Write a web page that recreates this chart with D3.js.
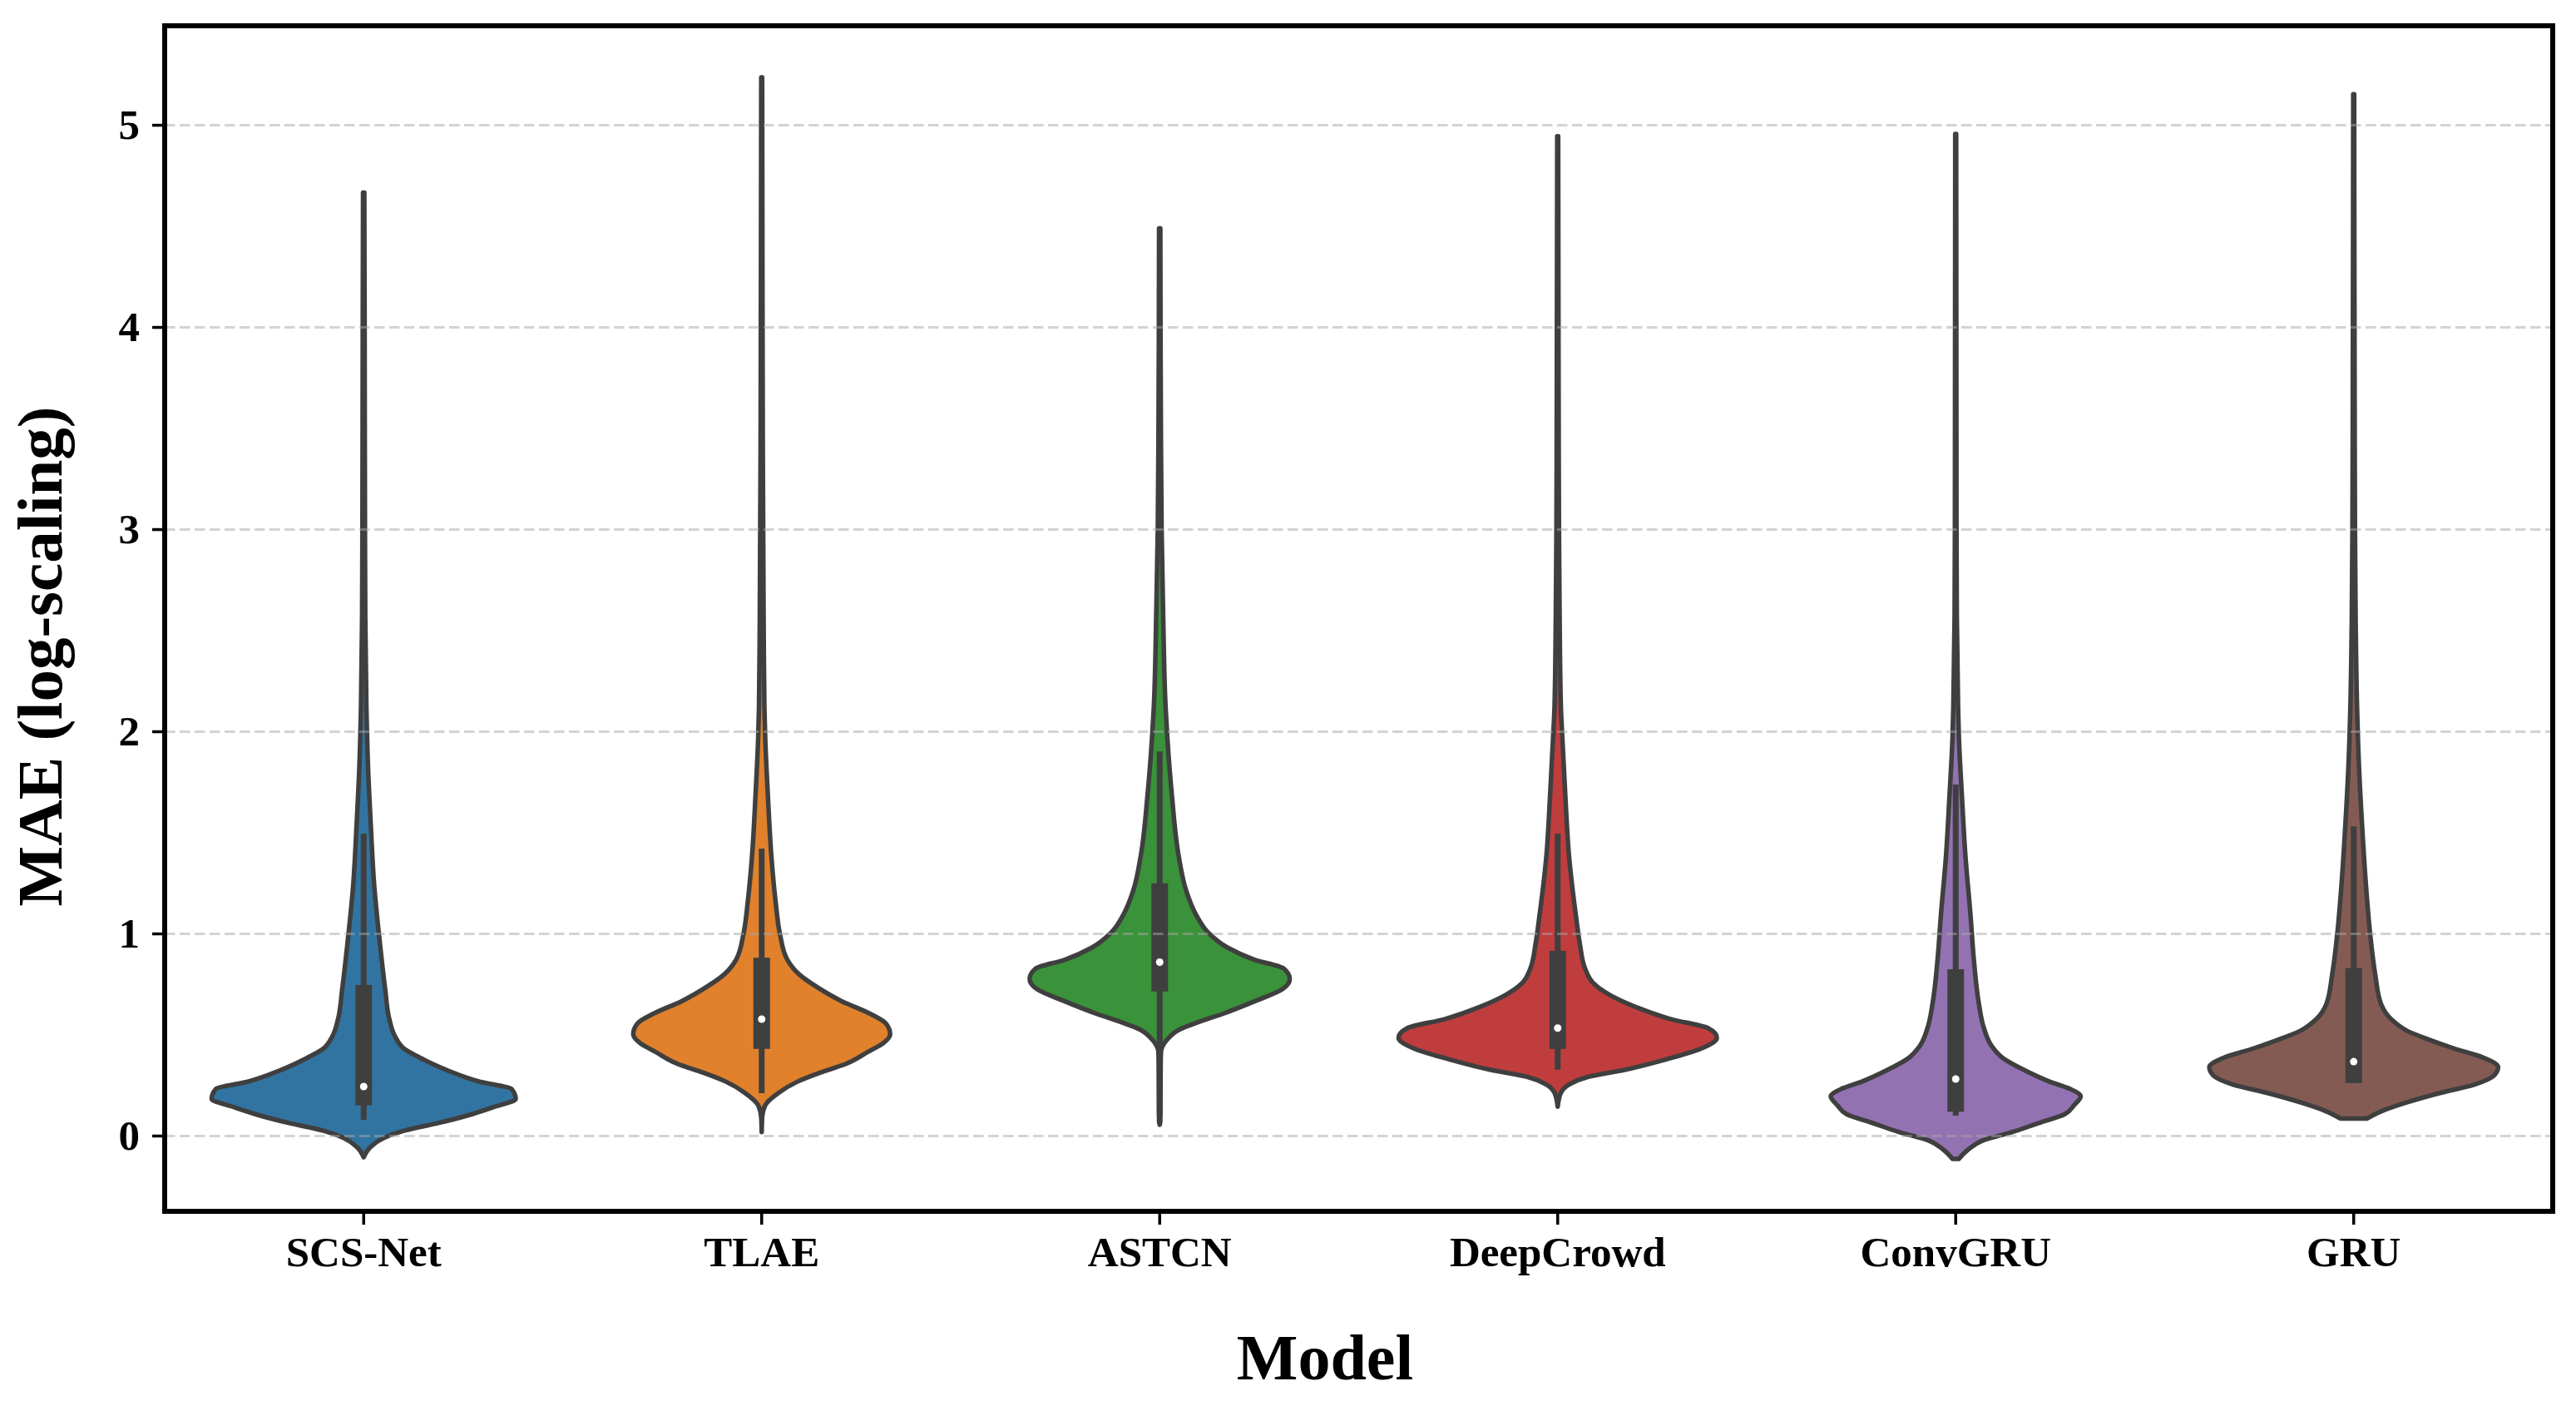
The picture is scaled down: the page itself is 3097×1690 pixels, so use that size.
<!DOCTYPE html>
<html lang="en">
<head>
<meta charset="utf-8">
<title>MAE violin plot</title>
<script src="https://d3js.org/d3.v7.min.js"></script>
<style>
  body { margin: 0; background: #fff; }
</style>
</head>
<body>
<script>

// ---- data ----
var models = ["SCS-Net", "TLAE", "ASTCN", "DeepCrowd", "ConvGRU", "GRU"];
var colors = ["#3274a1", "#e1812c", "#3a923a", "#c03d3e", "#9372b2", "#845b53"];
var yTicks = [0, 1, 2, 3, 4, 5];

// violin outlines: [MAE value, relative density (1 = widest violin)]
var scsNetKde = [[-0.107,0],[-0.056,0.043],[-0.012,0.124],[0.025,0.257],[0.062,0.468],[0.106,0.68],
  [0.143,0.823],[0.181,0.955],[0.231,0.929],[0.267,0.728],[0.326,0.516],[0.386,0.352],[0.428,0.257],
  [0.489,0.198],[0.576,0.161],[0.724,0.135],[0.943,0.103],[1.238,0.066],[1.53,0.045],[1.83,0.027],
  [2.12,0.017],[2.57,0.01],[3.43,0.007],[4.0,0.006],[4.665,0.004]];
var tlaeKde = [[0.018,0],[0.09,0.003],[0.15,0.022],[0.21,0.103],[0.267,0.225],[0.31,0.362],[0.356,0.532],
  [0.415,0.669],[0.458,0.765],[0.502,0.807],[0.555,0.78],[0.605,0.675],[0.664,0.505],[0.738,0.341],
  [0.798,0.235],[0.87,0.161],[1.0,0.114],[1.16,0.087],[1.38,0.061],[1.68,0.039],[1.97,0.022],
  [2.12,0.017],[2.57,0.012],[3.4,0.007],[4.2,0.005],[5.235,0.003]];
var astcnKde = [[0.054,0],[0.07,0.004],[0.2,0.005],[0.35,0.006],[0.415,0.008],[0.473,0.045],[0.525,0.124],
  [0.561,0.241],[0.605,0.405],[0.664,0.595],[0.724,0.77],[0.775,0.817],[0.826,0.78],[0.87,0.595],
  [0.93,0.426],[1.0,0.31],[1.09,0.23],[1.21,0.167],[1.384,0.119],[1.68,0.077],[1.97,0.048],
  [2.12,0.037],[2.57,0.022],[3.0,0.012],[3.6,0.007],[4.488,0.004]];
var deepCrowdKde = [[0.143,0],[0.21,0.019],[0.253,0.071],[0.29,0.188],[0.326,0.426],[0.378,0.685],
  [0.429,0.897],[0.485,1.0],[0.532,0.944],[0.576,0.712],[0.635,0.495],[0.694,0.331],[0.753,0.225],
  [0.826,0.172],[0.944,0.14],[1.09,0.114],[1.384,0.071],[1.68,0.048],[1.97,0.029],[2.12,0.02],
  [2.57,0.012],[3.0,0.008],[3.6,0.006],[4.944,0.003]];
var convGruKde = [[-0.115,0.02],[-0.07,0.077],[-0.025,0.167],[0.018,0.357],[0.062,0.521],[0.106,0.685],
  [0.15,0.743],[0.194,0.785],[0.23,0.722],[0.267,0.59],[0.326,0.426],[0.385,0.294],[0.444,0.225],
  [0.532,0.177],[0.65,0.146],[0.87,0.114],[1.09,0.093],[1.384,0.061],[1.68,0.039],[1.97,0.02],
  [2.12,0.015],[2.57,0.007],[3.0,0.005],[4.955,0.003]];
var gruKde = [[0.084,0.082],[0.12,0.172],[0.165,0.336],[0.21,0.537],[0.253,0.759],[0.297,0.881],
  [0.338,0.907],[0.385,0.817],[0.429,0.638],[0.473,0.479],[0.518,0.336],[0.576,0.235],[0.65,0.172],
  [0.798,0.135],[1.0,0.103],[1.238,0.077],[1.53,0.053],[1.83,0.033],[2.12,0.021],[2.57,0.012],
  [3.0,0.008],[3.6,0.006],[5.151,0.003]];
var kdes = [scsNetKde, tlaeKde, astcnKde, deepCrowdKde, convGruKde, gruKde];

// inner box statistics per model
var whiskerLow  = [0.078, 0.21, 0.10, 0.326, 0.099, 0.26];
var q1          = [0.150, 0.429, 0.713, 0.429, 0.118, 0.26];
var medians     = [0.243, 0.576, 0.858, 0.532, 0.28, 0.366];
var q3          = [0.745, 0.88, 1.248, 0.914, 0.823, 0.829];
var whiskerHigh = [1.494, 1.42, 1.90, 1.494, 1.737, 1.53];

// ---- layout ----
var W = 3097, H = 1690;
var plotL = 198, plotR = 3069, plotT = 31, plotB = 1456;
var font = "'Liberation Serif', 'Times New Roman', serif";
var gray = "#3f3f3f";

var svg = d3.select("body").append("svg")
    .attr("width", W)
    .attr("height", H);

var x = d3.scaleBand()
    .domain(models)
    .range([plotL, plotR])
    .padding(0);

var y = d3.scaleLinear()
    .domain([-0.3745, 5.49])
    .range([plotB, plotT]);

var w = d3.scaleLinear()
    .domain([0, 1])
    .range([0, x.bandwidth() * 0.4]);

// violins
var violins = svg.append("g");
models.forEach(function (m, i) {
  var cx = x(m) + x.bandwidth() / 2;
  var area = d3.area()
      .curve(d3.curveMonotoneY)
      .y(d => y(d[0]))
      .x0(d => cx - w(d[1]))
      .x1(d => cx + w(d[1]));

  violins.append("path")
      .datum(kdes[i])
      .attr("d", area)
      .attr("fill", colors[i])
      .attr("stroke", gray)
      .attr("stroke-width", 5.5)
      .attr("stroke-linejoin", "round");

  // whisker
  violins.append("line")
      .attr("x1", cx).attr("x2", cx)
      .attr("y1", y(whiskerLow[i])).attr("y2", y(whiskerHigh[i]))
      .attr("stroke", gray)
      .attr("stroke-width", 7);

  // IQR box
  violins.append("rect")
      .attr("x", cx - 10)
      .attr("width", 20)
      .attr("y", y(q3[i]))
      .attr("height", y(q1[i]) - y(q3[i]))
      .attr("fill", gray);

  // median
  violins.append("circle")
      .attr("cx", cx)
      .attr("cy", y(medians[i]))
      .attr("r", 4.5)
      .attr("fill", "#fff");
});

// dashed grid on top of the violins
var grid = svg.append("g")
    .attr("transform", "translate(" + plotL + ",0)")
    .call(d3.axisLeft(y).tickValues(yTicks).tickSize(-(plotR - plotL)).tickFormat(""));
grid.select(".domain").remove();
grid.selectAll("line")
    .attr("stroke", "#a8a8a8")
    .attr("stroke-opacity", 0.5)
    .attr("stroke-width", 3)
    .attr("stroke-dasharray", "12.5,5.5");

// y axis
var yAxis = svg.append("g")
    .attr("transform", "translate(" + plotL + ",0)")
    .call(d3.axisLeft(y).tickValues(yTicks).tickSize(15).tickPadding(15).tickFormat(d3.format("d")));
yAxis.select(".domain").remove();
yAxis.selectAll("line").attr("stroke", "#000").attr("stroke-width", 3.5);
yAxis.selectAll("text")
    .attr("font-family", font)
    .attr("font-weight", "bold")
    .attr("font-size", 51)
    .attr("fill", "#000");

// x axis
var xAxis = svg.append("g")
    .attr("transform", "translate(0," + plotB + ")")
    .call(d3.axisBottom(x).tickSize(16).tickPadding(14));
xAxis.select(".domain").remove();
xAxis.selectAll("line").attr("stroke", "#000").attr("stroke-width", 3.5);
xAxis.selectAll("text")
    .attr("font-family", font)
    .attr("font-weight", "bold")
    .attr("font-size", 51)
    .attr("fill", "#000");

// frame
svg.append("rect")
    .attr("x", plotL)
    .attr("y", plotT)
    .attr("width", plotR - plotL)
    .attr("height", plotB - plotT)
    .attr("fill", "none")
    .attr("stroke", "#000")
    .attr("stroke-width", 6);

// axis titles
svg.append("text")
    .attr("x", 1593)
    .attr("y", 1658)
    .attr("text-anchor", "middle")
    .attr("font-family", font)
    .attr("font-weight", "bold")
    .attr("font-size", 78)
    .text("Model");

svg.append("text")
    .attr("transform", "translate(74,789) rotate(-90)")
    .attr("text-anchor", "middle")
    .attr("font-family", font)
    .attr("font-weight", "bold")
    .attr("font-size", 77)
    .text("MAE (log-scaling)");

</script>
</body>
</html>
